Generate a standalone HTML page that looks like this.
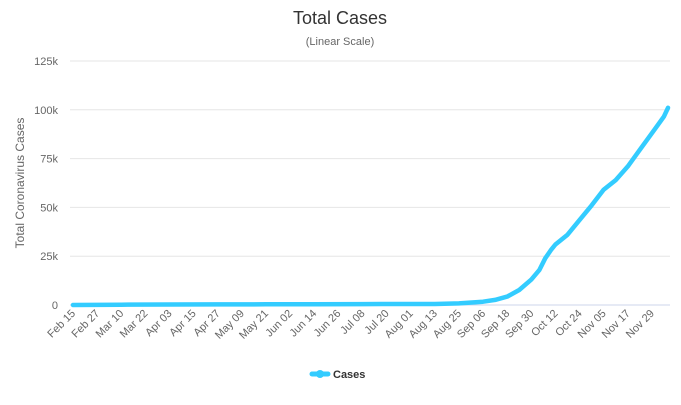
<!DOCTYPE html>
<html><head><meta charset="utf-8"><style>
body{margin:0;background:#fff;font-family:"Liberation Sans",sans-serif;}
</style></head><body>
<svg width="681" height="400" xmlns="http://www.w3.org/2000/svg">
<text x="340" y="24" text-anchor="middle" font-size="18" fill="#333">Total Cases</text>
<text x="340" y="45" text-anchor="middle" font-size="11" fill="#666">(Linear Scale)</text>
<text transform="translate(24,183) rotate(-90)" text-anchor="middle" font-size="12" fill="#666">Total Coronavirus Cases</text>
<g id="grid"></g><g id="xl"></g>
<path id="line" fill="none" stroke="#33ccff" stroke-width="4.5" stroke-linejoin="round" stroke-linecap="round"/>
<g>
<line x1="312" y1="374" x2="328" y2="374" stroke="#33ccff" stroke-width="5" stroke-linecap="round"/>
<circle cx="320" cy="374" r="4" fill="#33ccff"/>
<text x="333" y="378" font-size="11" font-weight="bold" fill="#333">Cases</text>
</g>
</svg>
<script>
const yTicks=[0,25000,50000,75000,100000,125000];
const yTickLabels=["0","25k","50k","75k","100k","125k"];
const xTickLabels=["Feb 15","Feb 27","Mar 10","Mar 22","Apr 03","Apr 15","Apr 27","May 09","May 21","Jun 02","Jun 14","Jun 26","Jul 08","Jul 20","Aug 01","Aug 13","Aug 25","Sep 06","Sep 18","Sep 30","Oct 12","Oct 24","Nov 05","Nov 17","Nov 29"];
const dayIdx=[0,24,48,72,96,120,144,168,180,192,204,210,216,222,228,232,235,238,240,246,252,258,264,270,276,282,288,294,296];
const cases=[0,150,250,300,350,400,450,500,500,800,1700,2600,4300,7700,13000,17900,24000,28500,31000,36000,43500,51000,59000,64000,71000,79500,88000,96500,101000];
const x0=73,pxDay=2.01,y0=305,yH=244,yMax=125000;
const X=d=>x0+d*pxDay, Y=v=>y0-v/yMax*yH;
const NS="http://www.w3.org/2000/svg";
const g=document.getElementById('grid');
yTicks.forEach((t,i)=>{
 const l=document.createElementNS(NS,'line');
 l.setAttribute('x1',70);l.setAttribute('x2',670);l.setAttribute('y1',Y(t));l.setAttribute('y2',Y(t));
 l.setAttribute('stroke',i==0?'#ccd6eb':'#e6e6e6');
 
 
 g.appendChild(l);
 const tx=document.createElementNS(NS,'text');
 tx.setAttribute('x',58);tx.setAttribute('y',Y(t)+4);tx.setAttribute('text-anchor','end');
 tx.setAttribute('font-size','11');tx.setAttribute('fill','#666');tx.textContent=yTickLabels[i];
 
 
 g.appendChild(tx);
});
const xl=document.getElementById('xl');
xTickLabels.forEach((s,i)=>{
 const x=X(i*12)+3,y=314;
 const tx=document.createElementNS(NS,'text');
 tx.setAttribute('transform',`translate(${x},${y}) rotate(-45)`);
 tx.setAttribute('text-anchor','end');tx.setAttribute('font-size','11');tx.setAttribute('fill','#666');
 tx.textContent=s;
 
 
 xl.appendChild(tx);
});
document.getElementById('line').setAttribute('d',dayIdx.map((d,i)=>(i?'L':'M')+X(d).toFixed(1)+','+Y(cases[i]).toFixed(1)).join(''));
</script>
</body></html>
